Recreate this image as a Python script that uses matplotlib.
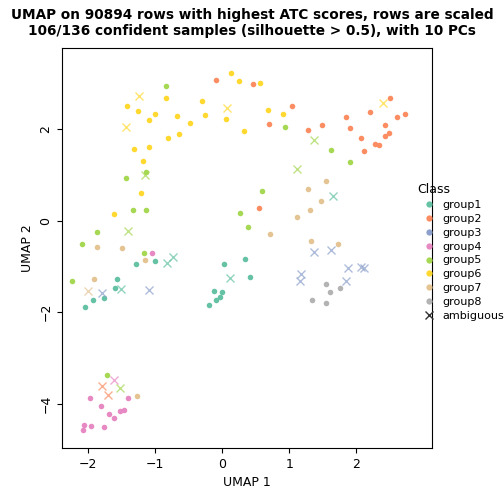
import matplotlib
matplotlib.use("Agg")
import matplotlib.pyplot as plt
from matplotlib.lines import Line2D

colors = {"group1": "#66C2A5", "group2": "#FC8D62", "group3": "#8DA0CB", "group4": "#E78AC3",
          "group5": "#A6D854", "group6": "#FFD92F", "group7": "#E5C494", "group8": "#B3B3B3"}

# confident samples per class
g1_x = [-1.28, -1.00, -1.57, -1.60, -1.76, -1.93, -2.04, 0.03, 0.34, 0.42, -0.12, 0.00, -0.04, -0.09, -0.19]
g1_y = [-0.94, -0.88, -1.27, -1.47, -1.68, -1.73, -1.88, -0.94, -0.83, -1.23, -1.53, -1.55, -1.66, -1.73, -1.84]
g2_x = [-0.09, 0.46, 0.55, 1.04, 0.70, 1.28, 1.49, 1.85, 1.90, 2.07, 2.21, 2.51, 2.43, 2.61, 2.72, 2.43, 2.49, 2.28, 2.34, 2.12]
g2_y = [3.09, 3.00, 0.28, 2.52, 2.12, 1.99, 2.10, 2.28, 2.03, 1.82, 2.39, 2.69, 2.10, 2.28, 2.34, 1.86, 1.93, 1.68, 1.66, 1.53]
g3_x = []
g3_y = []
g4_x = [-1.04, -1.97, -1.40, -1.81, -1.69, -1.61, -1.52, -1.46, -2.06, -2.07, -1.96, -1.76]
g4_y = [-0.70, -3.87, -3.87, -4.05, -4.22, -4.31, -4.16, -4.14, -4.46, -4.57, -4.49, -4.51]
g5_x = [-0.84, -1.13, -1.43, -1.33, -1.13, 0.27, 0.39, -1.87, -2.09, -1.16, -2.24, 0.93, 1.63, 1.91, 0.60, -1.72]
g5_y = [2.95, 1.07, 0.94, 0.24, 0.24, 0.17, -0.13, -0.24, -0.50, -0.70, -1.31, 2.06, 1.55, 1.29, 0.66, -3.37]
g6_x = [-1.42, -1.25, -1.00, -1.09, -0.84, -0.67, -0.48, -0.30, -0.25, 0.06, 0.33, -1.31, -1.09, -0.81, -0.64,
        -1.18, -1.21, -1.61, 0.13, 0.25, 0.57, 0.69, 0.90]
g6_y = [2.52, 2.41, 2.34, 2.21, 2.69, 2.30, 2.14, 2.63, 2.32, 2.23, 1.97, 1.58, 1.62, 1.82, 1.90,
        1.31, 0.61, 0.15, 3.24, 3.06, 3.02, 2.43, 2.34]
g7_x = [-1.87, -1.49, -1.15, -1.91, 1.55, 1.28, 1.48, 1.31, 1.12, 0.72, 1.33, 1.73, -1.27]
g7_y = [-0.57, -0.59, -0.85, -1.27, 0.87, 0.70, 0.44, 0.24, 0.09, -0.28, -0.44, -0.50, -3.83]
g8_x = [1.55, 1.75, 1.61, 1.34, 1.55]
g8_y = [-1.38, -1.47, -1.55, -1.73, -1.79]

# ambiguous samples
amb_x = [-1.24, 0.07, -1.43, -1.15, -1.40, -0.82, -0.73, -1.51, -2.00, -1.79, -1.09, 0.12, 1.37, 1.12, 2.40, 1.66,
         1.37, 1.63, 1.87, 2.07, 2.12, 1.18, 1.16, 1.85, -1.61, -1.79, -1.52, -1.70]
amb_y = [2.74, 2.47, 2.06, 1.01, -0.22, -0.92, -0.79, -1.49, -1.53, -1.58, -1.51, -1.25, 1.77, 1.14, 2.58, 0.55,
         -0.68, -0.63, -1.03, -1.01, -1.03, -1.16, -1.31, -1.31, -3.48, -3.61, -3.65, -3.81]
amb_cls = ["group6", "group6", "group6", "group5", "group5", "group1", "group1", "group1", "group7", "group3", "group3",
           "group1", "group5", "group5", "group6", "group1", "group3", "group3", "group3", "group3", "group3", "group3",
           "group3", "group3", "group4", "group2", "group5", "group2"]

groups = {"group1": (g1_x, g1_y), "group2": (g2_x, g2_y), "group3": (g3_x, g3_y), "group4": (g4_x, g4_y),
          "group5": (g5_x, g5_y), "group6": (g6_x, g6_y), "group7": (g7_x, g7_y), "group8": (g8_x, g8_y)}

fig = plt.figure(figsize=(5.04, 5.04), dpi=100)
ax = fig.add_axes([62/504, 1-448/504, 370/504, 400/504])
for k, (xs, ys) in groups.items():
    ax.plot(xs, ys, 'o', color=colors[k], ms=4, mec='none', ls='')
for x, y, c in zip(amb_x, amb_y, amb_cls):
    ax.plot(x, y, 'x', color=colors[c], ms=6, mew=1, alpha=0.7)
ax.set_xlim(-2.39, 3.13)
ax.set_ylim(-4.97, 3.78)
ax.set_xticks([-2, -1, 0, 1, 2])
ax.set_yticks([-4, -2, 0, 2])
ax.tick_params(labelsize=9)
for lab in ax.get_yticklabels():
    lab.set_rotation(90); lab.set_va('center')
ax.set_xlabel("UMAP 1", fontsize=9)
ax.set_ylabel("UMAP 2", fontsize=9)
fig.suptitle("UMAP on 90894 rows with highest ATC scores, rows are scaled\n"
             "106/136 confident samples (silhouette > 0.5), with 10 PCs",
             fontsize=9.8, fontweight='bold', y=0.985)
handles = [Line2D([], [], marker='o', ls='', color=v, mec='none', ms=4.5, label=k) for k, v in colors.items()]
handles.append(Line2D([], [], marker='x', ls='', color='#333333', ms=6, label='ambiguous'))
fig.legend(handles=handles, loc='center left', bbox_to_anchor=(0.82, 0.5), frameon=False,
           title="Class", fontsize=8, title_fontsize=9, handletextpad=0.2, labelspacing=0.35,
           alignment='left', borderaxespad=0)
fig.savefig("out.png", dpi=100)
